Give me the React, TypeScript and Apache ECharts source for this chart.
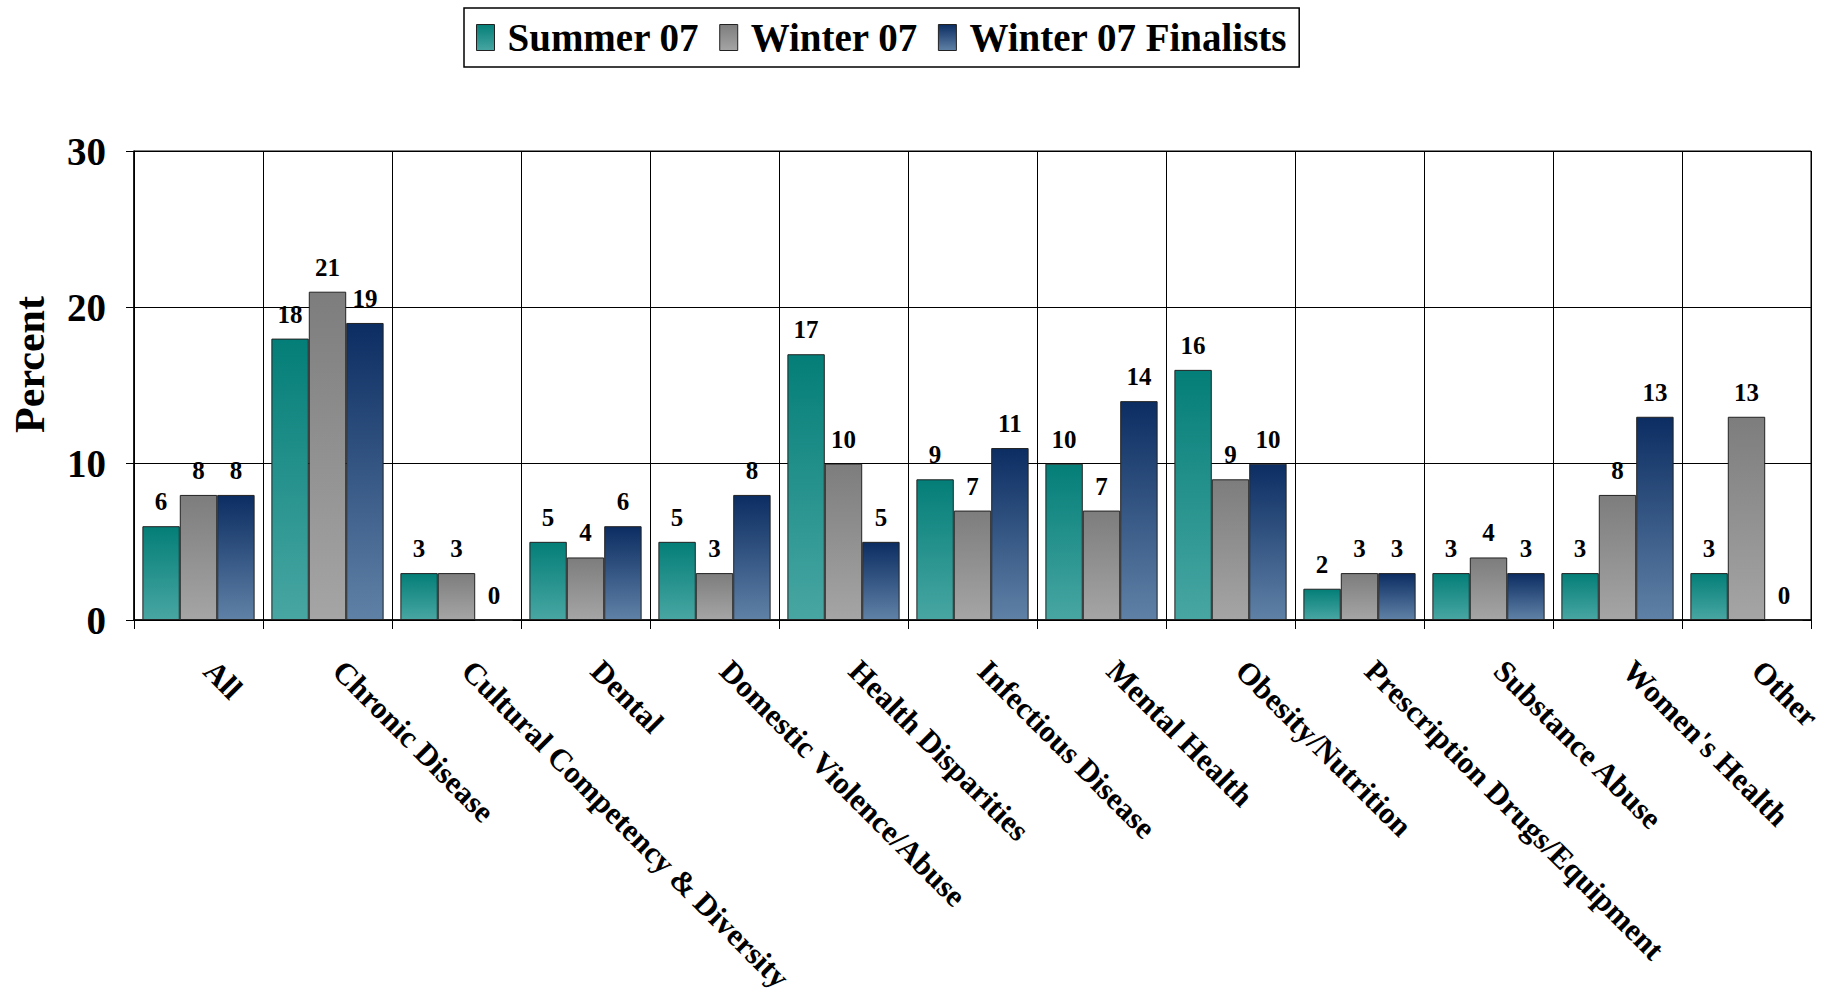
import React, { useEffect, useRef } from "react";
import * as echarts from "echarts";

const categories = [
  "All",
  "Chronic Disease",
  "Cultural Competency & Diversity",
  "Dental",
  "Domestic Violence/Abuse",
  "Health Disparities",
  "Infectious Disease",
  "Mental Health",
  "Obesity/Nutrition",
  "Prescription Drugs/Equipment",
  "Substance Abuse",
  "Women's Health",
  "Other",
];
const summer07 = [6, 18, 3, 5, 5, 17, 9, 10, 16, 2, 3, 3, 3];
const winter07 = [8, 21, 3, 4, 3, 10, 7, 7, 9, 3, 4, 8, 13];
const winter07Finalists = [8, 19, 0, 6, 8, 5, 11, 14, 10, 3, 3, 13, 0];
const yTicks = [0, 10, 20, 30];

const FONT = "'Liberation Serif', 'Times New Roman', serif";

const grad = (top: string, bottom: string) =>
  new echarts.graphic.LinearGradient(0, 0, 0, 1, [
    { offset: 0, color: top },
    { offset: 1, color: bottom },
  ]);

export default function App() {
  const ref = useRef<HTMLDivElement>(null);
  useEffect(() => {
    if (!ref.current) return;
    document.body.style.margin = "0";
    document.body.style.overflow = "hidden";
    const chart = echarts.init(ref.current, null, { renderer: "svg" });
    const labelStyle = {
      show: true,
      position: "top" as const,
      distance: 12,
      fontFamily: FONT,
      fontWeight: "bold" as const,
      fontSize: 25,
      color: "#000",
    };
    const mk = (name: string, data: number[], top: string, bottom: string) => ({
      name,
      type: "bar" as const,
      data,
      barGap: "0%",
      barCategoryGap: "13%",
      itemStyle: { color: grad(top, bottom), borderColor: "#222", borderWidth: 1 },
      label: labelStyle,
    });
    const legendItem = (name: string, top: string, bottom: string) => ({
      name,
      icon: "rect",
      itemStyle: { color: grad(top, bottom), borderColor: "#222", borderWidth: 1 },
    });
    chart.setOption({
      animation: false,
      backgroundColor: "#fff",
      legend: {
        left: 464,
        top: 8,
        borderColor: "#000",
        borderWidth: 1.5,
        padding: [10, 12, 10, 12],
        itemWidth: 18,
        itemHeight: 26,
        itemGap: 20,
        textStyle: {
          fontFamily: FONT,
          fontWeight: "bold",
          fontSize: 39,
          color: "#000",
          padding: [0, 0, 0, 8],
        },
        data: [
          legendItem("Summer 07", "#047e78", "#48a6a2"),
          legendItem("Winter 07", "#7d7d7d", "#a5a5a5"),
          legendItem("Winter 07 Finalists", "#0b2d62", "#6081a6"),
        ],
      },
      grid: {
        left: 134,
        right: 21,
        top: 151,
        bottom: 375,
        containLabel: false,
        outerBoundsMode: "none",
        show: true,
        borderColor: "#000",
        borderWidth: 1,
        backgroundColor: "transparent",
      },
      xAxis: {
        type: "category",
        data: categories,
        axisLine: { lineStyle: { color: "#000", width: 1.5 } },
        axisTick: { show: true, length: 9, lineStyle: { color: "#000" } },
        splitLine: { show: true, lineStyle: { color: "#000", width: 1 } },
        axisLabel: {
          rotate: -45,
          interval: 0,
          margin: 35,
          padding: [0, 0, 0, 15],
          fontFamily: FONT,
          fontWeight: "bold",
          fontSize: 31,
          color: "#000",
        },
      },
      yAxis: {
        type: "value",
        min: yTicks[0],
        max: yTicks[yTicks.length - 1],
        interval: 10,
        name: "Percent",
        nameLocation: "middle",
        nameGap: 83,
        nameTextStyle: {
          fontFamily: FONT,
          fontWeight: "bold",
          fontSize: 42,
          color: "#000",
          padding: [0, 0, 0, 42],
        },
        axisLine: { show: true, lineStyle: { color: "#000", width: 1.5 } },
        axisTick: { show: true, length: 8, lineStyle: { color: "#000" } },
        splitLine: { show: true, lineStyle: { color: "#000", width: 1 } },
        axisLabel: {
          margin: 28,
          fontFamily: FONT,
          fontWeight: "bold",
          fontSize: 39,
          color: "#000",
        },
      },
      series: [
        mk("Summer 07", summer07, "#047e78", "#48a6a2"),
        mk("Winter 07", winter07, "#7d7d7d", "#a5a5a5"),
        mk("Winter 07 Finalists", winter07Finalists, "#0b2d62", "#6081a6"),
      ],
    });
    return () => chart.dispose();
  }, []);
  return (
    <div
      ref={ref}
      style={{
        position: "absolute",
        left: 0,
        top: 0,
        width: 1832,
        height: 995,
        overflow: "hidden",
        background: "#fff",
      }}
    />
  );
}
